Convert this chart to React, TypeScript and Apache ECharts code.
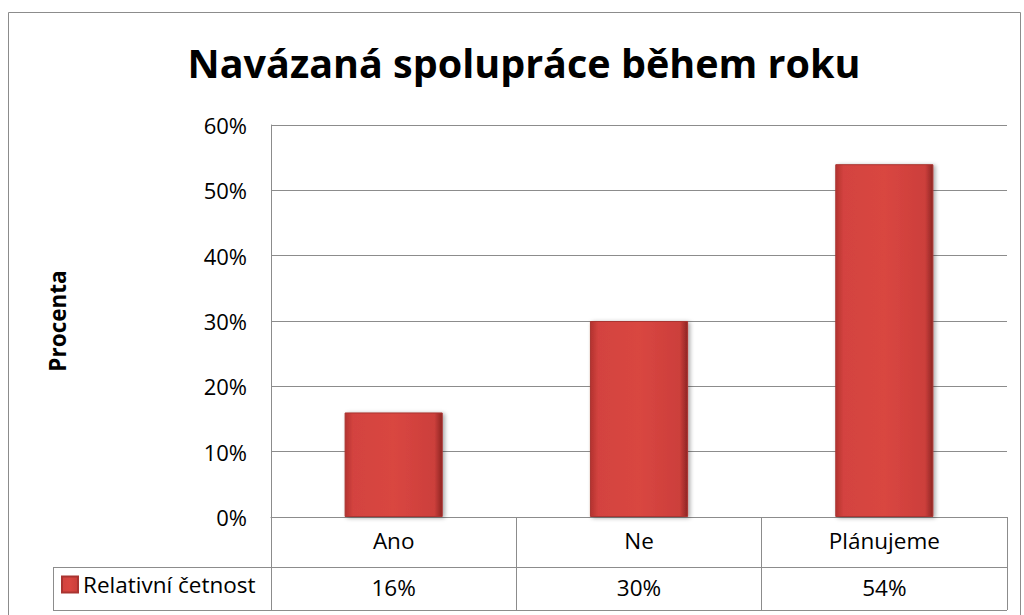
import React, { useEffect, useRef } from "react";
import * as echarts from "echarts";

const title = "Navázaná spolupráce během roku";
const yAxisName = "Procenta";
const seriesName = "Relativní četnost";
const categories = ["Ano", "Ne", "Plánujeme"];
const values = [16, 30, 54];
const yTicks = { min: 0, max: 60, interval: 10 };

const FONT = "'Open Sans', 'Noto Sans', sans-serif";
const GRAY = "#8c8c8c";

export default function App() {
  const ref = useRef<HTMLDivElement>(null);
  useEffect(() => {
    if (!ref.current) return;
    const chart = echarts.init(ref.current, null, { renderer: "svg" });
    const left = 271, right = 1007, top = 125, bottom = 517;
    const row1 = 567, row2 = 610, legendLeft = 53;
    chart.setOption({
      animation: false,
      backgroundColor: "#fff",
      textStyle: { fontFamily: FONT },
      title: {
        text: title,
        left: 519,
        textAlign: "center",
        top: 38,
        textStyle: { fontFamily: FONT, fontSize: 39.5, fontWeight: "bold", color: "#000" },
      },
      legend: {
        left: 61,
        top: 573,
        padding: 0,
        icon: "rect",
        itemWidth: 16,
        itemHeight: 16,
        itemGap: 6,
        textStyle: { fontFamily: FONT, fontSize: 22.5, color: "#000" },
        data: [seriesName],
      },
      grid: { left, right: 1024 - right, top, bottom: 615 - bottom },
      xAxis: [
        {
          type: "category",
          data: categories,
          axisLine: { show: true, lineStyle: { color: GRAY, width: 1 } },
          axisTick: { show: true, length: row2 - bottom, lineStyle: { color: GRAY } },
          axisLabel: { fontFamily: FONT, fontSize: 22.5, color: "#000", margin: 12 },
        },
        {
          type: "category",
          data: values.map((v) => v + "%"),
          position: "bottom",
          offset: 50,
          axisLine: { show: false },
          axisTick: { show: false },
          axisLabel: { fontFamily: FONT, fontSize: 22.5, color: "#000", margin: 9 },
        },
      ],
      yAxis: {
        type: "value",
        min: yTicks.min,
        max: yTicks.max,
        interval: yTicks.interval,
        name: yAxisName,
        nameLocation: "middle",
        nameGap: 202,
        nameTextStyle: { fontFamily: FONT, fontSize: 22.5, fontWeight: "bold", color: "#000" },
        axisLine: { show: true, lineStyle: { color: GRAY } },
        axisTick: { show: false },
        axisLabel: {
          fontFamily: FONT,
          fontSize: 22,
          color: "#000",
          margin: 24,
          formatter: (v: number) => v + "%",
        },
        splitLine: { lineStyle: { color: GRAY, width: 1 } },
      },
      series: [
        {
          name: seriesName,
          type: "bar",
          data: values,
          barWidth: "40%",
          itemStyle: {
            color: new echarts.graphic.LinearGradient(0, 0, 1, 0, [
              { offset: 0, color: "#b3322f" },
              { offset: 0.08, color: "#d3433f" },
              { offset: 0.5, color: "#d94641" },
              { offset: 0.92, color: "#cc3f3b" },
              { offset: 1, color: "#8e2523" },
            ]),
            borderColor: "#a93431",
            borderWidth: 1,
            shadowBlur: 4,
            shadowOffsetX: 2,
            shadowOffsetY: 1,
            shadowColor: "rgba(0,0,0,0.35)",
          },
        },
      ],
      graphic: [
        {
          type: "rect",
          shape: { x: 8.5, y: 12.5, width: 1012, height: 620 },
          style: { fill: "none", stroke: GRAY, lineWidth: 1 },
          silent: true,
        },
        {
          type: "line",
          shape: { x1: legendLeft, y1: row1 + 0.5, x2: right, y2: row1 + 0.5 },
          style: { stroke: GRAY, lineWidth: 1 },
        },
        {
          type: "line",
          shape: { x1: legendLeft, y1: row2 + 0.5, x2: right, y2: row2 + 0.5 },
          style: { stroke: GRAY, lineWidth: 1 },
        },
        {
          type: "line",
          shape: { x1: legendLeft + 0.5, y1: row1, x2: legendLeft + 0.5, y2: row2 },
          style: { stroke: GRAY, lineWidth: 1 },
        },
      ],
    });
    return () => chart.dispose();
  }, []);
  return <div ref={ref} style={{ width: 1024, height: 615, position: "absolute", left: 0, top: 0 }} />;
}
